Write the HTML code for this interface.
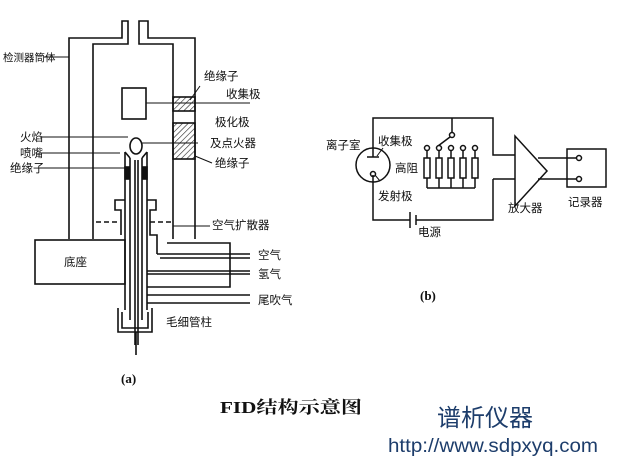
<!DOCTYPE html>
<html><head><meta charset="utf-8"><style>
html,body{margin:0;padding:0;background:#fff;}
svg{display:block}
text{font-family:"Liberation Sans","Noto Sans CJK SC",sans-serif;fill:#111;font-size:11.5px;}
</style></head><body>
<svg width="619" height="474" viewBox="0 0 619 474" xmlns="http://www.w3.org/2000/svg">
<defs><pattern id="h" width="4" height="4" patternUnits="userSpaceOnUse" patternTransform="rotate(45)"><line x1="0" y1="0" x2="0" y2="4" stroke="#222" stroke-width="1.2"/></pattern></defs>
<g stroke="#111" stroke-width="1.6" fill="none">
<path d="M69 239 V38 H122 V21 H128 V44 H93 V239"/>
<path d="M195 239 V38 H148 V21 H139 V44 H173 V239"/>
<rect x="122" y="88" width="24" height="31"/>
<rect x="173" y="97" width="22" height="14" fill="url(#h)"/>
<rect x="173" y="123" width="22" height="36" fill="url(#h)"/>
<rect x="35" y="240" width="90" height="44" fill="#fff"/>
<path d="M167 243 H230 V287 H147"/>
<path d="M125 152 V310 M147 152 V310 M130 158 V320 M142 158 V320 M135 160 V345 M138 160 V345"/>
<path d="M125 152 L130 158 M147 152 L142 158"/>
<rect x="125" y="167" width="4" height="12" fill="#111"/>
<rect x="143" y="167" width="4" height="12" fill="#111"/>
<ellipse cx="136" cy="146" rx="6" ry="8"/>
<path d="M125 200 H115 V210 H121 V235 M147 200 H156 V210 H150 V235 H157 V254"/>
<path d="M118 308 V332 H152 V308 M122 312 V328 H148 V312"/>
<path d="M136 332 L136 355"/>
<path d="M96 222 H120 M150 222 H172" stroke-dasharray="5,3"/>
<path d="M157 254 H250 M160 258 H250 M147 271 H250 M147 274 H250 M147 295 H250 M147 303 H250"/>
<g stroke-width="1">
<path d="M44 57 H69 M146 103 H250 M200 86 L190 100 M195 156 L212 163 M40 137 L128 137 M40 153 L120 153 M40 168 L125 168 M173 226 L210 226 M142 143 H198"/>
</g>
</g>
<text x="3" y="61" style="font-size:10.5px">检测器筒体</text>
<text x="204" y="80">绝缘子</text>
<text x="226" y="98">收集极</text>
<text x="215" y="126">极化极</text>
<text x="210" y="147">及点火器</text>
<text x="215" y="167">绝缘子</text>
<text x="20" y="141">火焰</text>
<text x="20" y="157">喷嘴</text>
<text x="10" y="172">绝缘子</text>
<text x="212" y="229">空气扩散器</text>
<text x="64" y="266">底座</text>
<text x="258" y="259">空气</text>
<text x="258" y="278">氢气</text>
<text x="258" y="304">尾吹气</text>
<text x="166" y="326">毛细管柱</text>
<text x="121" y="383" style="font-family:'Liberation Serif',serif;font-weight:bold;font-size:13px">(a)</text>
<g stroke="#111" stroke-width="1.5" fill="none">
<circle cx="373" cy="165" r="17"/>
<path d="M367 157 H379 M373 157 V118 H493 V155 H515 M493 179 H515 M493 179 V220 H416 M410 220 H373 V175"/>
<path d="M410 212 V228 M416 215 V225"/>
<circle cx="373" cy="174" r="2.5"/>
<path d="M515 136 V206 L547 171 Z"/>
<path d="M538 158 H579 M538 179 H579"/>
<rect x="567" y="149" width="39" height="38"/>
<circle cx="579" cy="158" r="2.5" fill="#fff"/><circle cx="579" cy="179" r="2.5" fill="#fff"/>
<path d="M452 118 V133 M450 137 L438 146"/>
<circle cx="452" cy="135" r="2.5" fill="#fff"/>
<g>
<path d="M427 151 V158 M439 151 V158 M451 151 V158 M463 151 V158 M475 151 V158"/>
<rect x="424" y="158" width="6" height="20"/><rect x="436" y="158" width="6" height="20"/><rect x="448" y="158" width="6" height="20"/><rect x="460" y="158" width="6" height="20"/><rect x="472" y="158" width="6" height="20"/>
<path d="M427 178 V188 M439 178 V188 M451 178 V188 M463 178 V188 M475 178 V188 M427 188 H475"/>
<circle cx="427" cy="148" r="2.5" fill="#fff"/><circle cx="439" cy="148" r="2.5" fill="#fff"/><circle cx="451" cy="148" r="2.5" fill="#fff"/><circle cx="463" cy="148" r="2.5" fill="#fff"/><circle cx="475" cy="148" r="2.5" fill="#fff"/>
</g>
<path d="M383 148 L377 156 M380 181 L375 175" stroke-width="1"/>
</g>
<text x="326" y="149">离子室</text>
<text x="378" y="145">收集极</text>
<text x="395" y="172">高阻</text>
<text x="378" y="200">发射极</text>
<text x="418" y="236">电源</text>
<text x="508" y="212">放大器</text>
<text x="568" y="206">记录器</text>
<text x="420" y="300" style="font-family:'Liberation Serif',serif;font-weight:bold;font-size:13px">(b)</text>
<text x="220" y="413" textLength="142" lengthAdjust="spacingAndGlyphs" style="font-family:'Liberation Serif','Noto Serif CJK SC',serif;font-weight:bold;font-size:17px">FID结构示意图</text>
<text x="437" y="426" textLength="96" style="font-size:24px;fill:#1d3d6b">谱析仪器</text>
<text x="388" y="452" textLength="210" lengthAdjust="spacingAndGlyphs" style="font-size:19px;fill:#1d3d6b">http://www.sdpxyq.com</text>
</svg>
</body></html>
